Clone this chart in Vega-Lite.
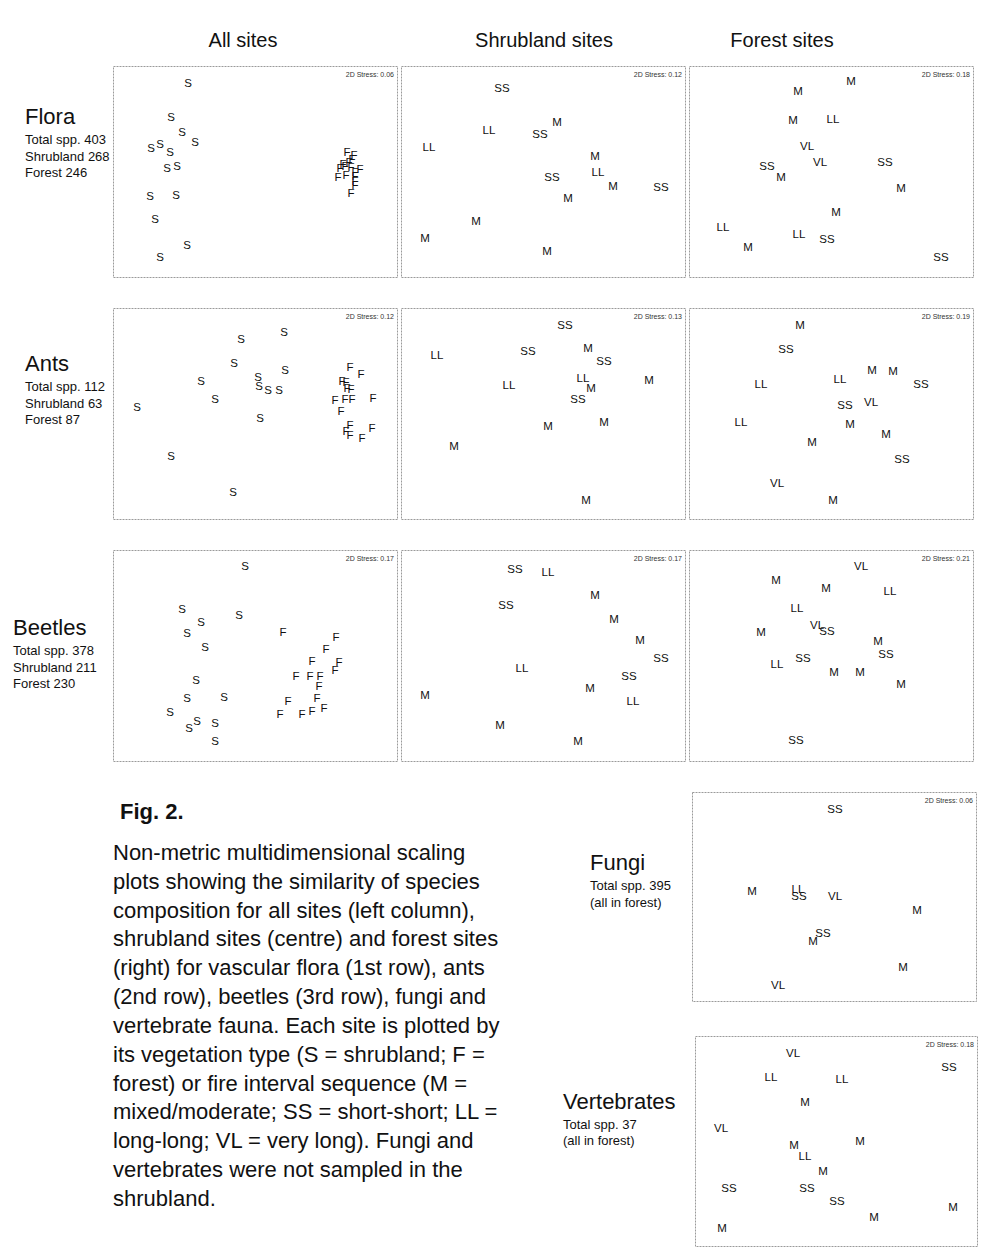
{
  "$schema": "https://vega.github.io/schema/vega-lite/v6.json",
  "background": "white",
  "padding": {"top": 30, "left": 0, "right": 0, "bottom": 0},
  "spacing": 29,
  "config": {
    "view": {"stroke": "#9a9a9a", "strokeDash": [2, 1], "strokeWidth": 1},
    "font": "Liberation Sans",
    "text": {"font": "Liberation Sans", "color": "#111"},
    "title": {"font": "Liberation Sans", "fontWeight": "normal", "color": "#111", "anchor": "middle"}
  },
  "datasets": {
    "stress": [
      {"panel": "fa", "label": "2D Stress: 0.06"}, {"panel": "fs", "label": "2D Stress: 0.12"}, {"panel": "ff", "label": "2D Stress: 0.18"},
      {"panel": "aa", "label": "2D Stress: 0.12"}, {"panel": "as", "label": "2D Stress: 0.13"}, {"panel": "af", "label": "2D Stress: 0.19"},
      {"panel": "ba", "label": "2D Stress: 0.17"}, {"panel": "bs", "label": "2D Stress: 0.17"}, {"panel": "bf", "label": "2D Stress: 0.21"},
      {"panel": "fu", "label": "2D Stress: 0.06"}, {"panel": "ve", "label": "2D Stress: 0.18"}
    ],
    "sites": [
      {"panel":"fa","code":"S","x":75,"y":18},{"panel":"fa","code":"S","x":58,"y":52},{"panel":"fa","code":"S","x":69,"y":67},{"panel":"fa","code":"S","x":82,"y":77},{"panel":"fa","code":"S","x":38,"y":83},{"panel":"fa","code":"S","x":47,"y":79},{"panel":"fa","code":"S","x":57,"y":87},{"panel":"fa","code":"S","x":54,"y":103},{"panel":"fa","code":"S","x":64,"y":101},{"panel":"fa","code":"S","x":37,"y":131},{"panel":"fa","code":"S","x":63,"y":130},{"panel":"fa","code":"S","x":42,"y":154},{"panel":"fa","code":"S","x":74,"y":180},{"panel":"fa","code":"S","x":47,"y":192},
      {"panel":"fa","code":"F","x":234,"y":87},{"panel":"fa","code":"F","x":241,"y":90},{"panel":"fa","code":"F","x":239,"y":94},{"panel":"fa","code":"F","x":236,"y":97},{"panel":"fa","code":"F","x":230,"y":99},{"panel":"fa","code":"F","x":227,"y":103},{"panel":"fa","code":"F","x":232,"y":101},{"panel":"fa","code":"F","x":238,"y":102},{"panel":"fa","code":"F","x":247,"y":104},{"panel":"fa","code":"F","x":242,"y":107},{"panel":"fa","code":"F","x":225,"y":112},{"panel":"fa","code":"F","x":233,"y":110},{"panel":"fa","code":"F","x":242,"y":111},{"panel":"fa","code":"F","x":242,"y":116},{"panel":"fa","code":"F","x":242,"y":120},{"panel":"fa","code":"F","x":238,"y":128},
      {"panel":"fs","code":"SS","x":101,"y":23},{"panel":"fs","code":"LL","x":88,"y":65},{"panel":"fs","code":"M","x":156,"y":57},{"panel":"fs","code":"SS","x":139,"y":69},{"panel":"fs","code":"LL","x":28,"y":82},{"panel":"fs","code":"M","x":194,"y":91},{"panel":"fs","code":"LL","x":197,"y":107},{"panel":"fs","code":"SS","x":151,"y":112},{"panel":"fs","code":"M","x":212,"y":121},{"panel":"fs","code":"SS","x":260,"y":122},{"panel":"fs","code":"M","x":167,"y":133},{"panel":"fs","code":"M","x":75,"y":156},{"panel":"fs","code":"M","x":24,"y":173},{"panel":"fs","code":"M","x":146,"y":186},
      {"panel":"ff","code":"M","x":162,"y":16},{"panel":"ff","code":"M","x":109,"y":26},{"panel":"ff","code":"M","x":104,"y":55},{"panel":"ff","code":"LL","x":144,"y":54},{"panel":"ff","code":"VL","x":118,"y":81},{"panel":"ff","code":"VL","x":131,"y":97},{"panel":"ff","code":"SS","x":196,"y":97},{"panel":"ff","code":"SS","x":78,"y":101},{"panel":"ff","code":"M","x":92,"y":112},{"panel":"ff","code":"M","x":212,"y":123},{"panel":"ff","code":"M","x":147,"y":147},{"panel":"ff","code":"LL","x":34,"y":162},{"panel":"ff","code":"LL","x":110,"y":169},{"panel":"ff","code":"SS","x":138,"y":174},{"panel":"ff","code":"M","x":59,"y":182},{"panel":"ff","code":"SS","x":252,"y":192},
      {"panel":"aa","code":"S","x":171,"y":25},{"panel":"aa","code":"S","x":128,"y":32},{"panel":"aa","code":"S","x":121,"y":56},{"panel":"aa","code":"S","x":172,"y":63},{"panel":"aa","code":"S","x":88,"y":74},{"panel":"aa","code":"S","x":145,"y":70},{"panel":"aa","code":"S","x":146,"y":79},{"panel":"aa","code":"S","x":155,"y":83},{"panel":"aa","code":"S","x":166,"y":83},{"panel":"aa","code":"S","x":102,"y":92},{"panel":"aa","code":"S","x":24,"y":100},{"panel":"aa","code":"S","x":147,"y":111},{"panel":"aa","code":"S","x":58,"y":149},{"panel":"aa","code":"S","x":120,"y":185},
      {"panel":"aa","code":"F","x":237,"y":60},{"panel":"aa","code":"F","x":248,"y":67},{"panel":"aa","code":"F","x":229,"y":74},{"panel":"aa","code":"F","x":233,"y":75},{"panel":"aa","code":"F","x":234,"y":81},{"panel":"aa","code":"F","x":238,"y":82},{"panel":"aa","code":"F","x":222,"y":93},{"panel":"aa","code":"F","x":232,"y":92},{"panel":"aa","code":"F","x":239,"y":92},{"panel":"aa","code":"F","x":260,"y":91},{"panel":"aa","code":"F","x":228,"y":104},{"panel":"aa","code":"F","x":237,"y":118},{"panel":"aa","code":"F","x":233,"y":124},{"panel":"aa","code":"F","x":237,"y":128},{"panel":"aa","code":"F","x":249,"y":131},{"panel":"aa","code":"F","x":259,"y":121},
      {"panel":"as","code":"SS","x":164,"y":18},{"panel":"as","code":"LL","x":36,"y":48},{"panel":"as","code":"SS","x":127,"y":44},{"panel":"as","code":"M","x":187,"y":41},{"panel":"as","code":"SS","x":203,"y":54},{"panel":"as","code":"LL","x":182,"y":71},{"panel":"as","code":"M","x":190,"y":81},{"panel":"as","code":"M","x":248,"y":73},{"panel":"as","code":"LL","x":108,"y":78},{"panel":"as","code":"SS","x":177,"y":92},{"panel":"as","code":"M","x":147,"y":119},{"panel":"as","code":"M","x":203,"y":115},{"panel":"as","code":"M","x":53,"y":139},{"panel":"as","code":"M","x":185,"y":193},
      {"panel":"af","code":"M","x":111,"y":18},{"panel":"af","code":"SS","x":97,"y":42},{"panel":"af","code":"LL","x":72,"y":77},{"panel":"af","code":"LL","x":151,"y":72},{"panel":"af","code":"M","x":183,"y":63},{"panel":"af","code":"M","x":204,"y":64},{"panel":"af","code":"SS","x":232,"y":77},{"panel":"af","code":"SS","x":156,"y":98},{"panel":"af","code":"VL","x":182,"y":95},{"panel":"af","code":"LL","x":52,"y":115},{"panel":"af","code":"M","x":161,"y":117},{"panel":"af","code":"M","x":197,"y":127},{"panel":"af","code":"M","x":123,"y":135},{"panel":"af","code":"SS","x":213,"y":152},{"panel":"af","code":"VL","x":88,"y":176},{"panel":"af","code":"M","x":144,"y":193},
      {"panel":"ba","code":"S","x":132,"y":17},{"panel":"ba","code":"S","x":69,"y":60},{"panel":"ba","code":"S","x":126,"y":66},{"panel":"ba","code":"S","x":88,"y":73},{"panel":"ba","code":"S","x":74,"y":84},{"panel":"ba","code":"S","x":92,"y":98},{"panel":"ba","code":"S","x":83,"y":131},{"panel":"ba","code":"S","x":74,"y":149},{"panel":"ba","code":"S","x":111,"y":148},{"panel":"ba","code":"S","x":57,"y":163},{"panel":"ba","code":"S","x":84,"y":172},{"panel":"ba","code":"S","x":76,"y":179},{"panel":"ba","code":"S","x":102,"y":174},{"panel":"ba","code":"S","x":102,"y":192},
      {"panel":"ba","code":"F","x":170,"y":83},{"panel":"ba","code":"F","x":223,"y":88},{"panel":"ba","code":"F","x":213,"y":100},{"panel":"ba","code":"F","x":199,"y":112},{"panel":"ba","code":"F","x":226,"y":113},{"panel":"ba","code":"F","x":222,"y":121},{"panel":"ba","code":"F","x":183,"y":127},{"panel":"ba","code":"F","x":197,"y":127},{"panel":"ba","code":"F","x":207,"y":127},{"panel":"ba","code":"F","x":206,"y":137},{"panel":"ba","code":"F","x":204,"y":149},{"panel":"ba","code":"F","x":175,"y":152},{"panel":"ba","code":"F","x":167,"y":165},{"panel":"ba","code":"F","x":189,"y":165},{"panel":"ba","code":"F","x":199,"y":162},{"panel":"ba","code":"F","x":211,"y":159},
      {"panel":"bs","code":"SS","x":114,"y":20},{"panel":"bs","code":"LL","x":147,"y":23},{"panel":"bs","code":"M","x":194,"y":46},{"panel":"bs","code":"SS","x":105,"y":56},{"panel":"bs","code":"M","x":213,"y":70},{"panel":"bs","code":"M","x":239,"y":91},{"panel":"bs","code":"SS","x":260,"y":109},{"panel":"bs","code":"LL","x":121,"y":119},{"panel":"bs","code":"SS","x":228,"y":127},{"panel":"bs","code":"M","x":189,"y":139},{"panel":"bs","code":"M","x":24,"y":146},{"panel":"bs","code":"LL","x":232,"y":152},{"panel":"bs","code":"M","x":99,"y":176},{"panel":"bs","code":"M","x":177,"y":192},
      {"panel":"bf","code":"VL","x":172,"y":17},{"panel":"bf","code":"M","x":87,"y":31},{"panel":"bf","code":"M","x":137,"y":39},{"panel":"bf","code":"LL","x":201,"y":42},{"panel":"bf","code":"LL","x":108,"y":59},{"panel":"bf","code":"VL","x":128,"y":76},{"panel":"bf","code":"SS","x":138,"y":82},{"panel":"bf","code":"M","x":72,"y":83},{"panel":"bf","code":"M","x":189,"y":92},{"panel":"bf","code":"SS","x":197,"y":105},{"panel":"bf","code":"SS","x":114,"y":109},{"panel":"bf","code":"LL","x":88,"y":115},{"panel":"bf","code":"M","x":145,"y":123},{"panel":"bf","code":"M","x":171,"y":123},{"panel":"bf","code":"M","x":212,"y":135},{"panel":"bf","code":"SS","x":107,"y":191},
      {"panel":"fu","code":"SS","x":143,"y":18},{"panel":"fu","code":"M","x":60,"y":100},{"panel":"fu","code":"LL","x":106,"y":98},{"panel":"fu","code":"SS","x":107,"y":105},{"panel":"fu","code":"VL","x":143,"y":105},{"panel":"fu","code":"M","x":225,"y":119},{"panel":"fu","code":"SS","x":131,"y":142},{"panel":"fu","code":"M","x":121,"y":150},{"panel":"fu","code":"M","x":211,"y":176},{"panel":"fu","code":"VL","x":86,"y":194},
      {"panel":"ve","code":"VL","x":98,"y":18},{"panel":"ve","code":"SS","x":254,"y":32},{"panel":"ve","code":"LL","x":76,"y":42},{"panel":"ve","code":"LL","x":147,"y":44},{"panel":"ve","code":"M","x":110,"y":67},{"panel":"ve","code":"VL","x":26,"y":93},{"panel":"ve","code":"M","x":165,"y":106},{"panel":"ve","code":"M","x":99,"y":110},{"panel":"ve","code":"LL","x":110,"y":121},{"panel":"ve","code":"M","x":128,"y":136},{"panel":"ve","code":"SS","x":34,"y":153},{"panel":"ve","code":"SS","x":112,"y":153},{"panel":"ve","code":"SS","x":142,"y":166},{"panel":"ve","code":"M","x":258,"y":172},{"panel":"ve","code":"M","x":179,"y":182},{"panel":"ve","code":"M","x":27,"y":193}
    ]
  },
  "vconcat": [
    {
      "hconcat": [
        {
          "width": 110, "height": 211, "view": {"stroke": null},
          "data": {"values": [{"line": 0, "text": "Flora"}, {"line": 1, "text": "Total spp. 403"}, {"line": 2, "text": "Shrubland 268"}, {"line": 3, "text": "Forest 246"}]},
          "encoding": {"x": {"value": 25}, "y": {"field": "line", "type": "quantitative", "scale": {"domain": [0, 10], "range": [57.5, 222.5]}, "axis": null}, "text": {"field": "text"}},
          "layer": [
            {"transform": [{"filter": "datum.line == 0"}], "mark": {"type": "text", "fontSize": 22, "align": "left", "baseline": "middle", "dy": -6.5}},
            {"transform": [{"filter": "datum.line > 0"}], "mark": {"type": "text", "fontSize": 13, "align": "left", "baseline": "middle"}}
          ]
        },
        {
          "width": 284, "height": 211,
          "title": {"text": "All sites", "fontSize": 20, "offset": 15, "dx": -12},
          "layer": [
            {"data": {"name": "sites"}, "transform": [{"filter": "datum.panel == 'fa'"}], "mark": {"type": "text", "fontSize": 11.5, "baseline": "middle"},
             "encoding": {"x": {"field": "x", "type": "quantitative", "scale": {"domain": [0, 284], "nice": false, "zero": false}, "axis": null}, "y": {"field": "y", "type": "quantitative", "scale": {"domain": [0, 211], "nice": false, "zero": false, "reverse": true}, "axis": null}, "text": {"field": "code"}}},
            {"data": {"name": "stress"}, "transform": [{"filter": "datum.panel == 'fa'"}], "mark": {"type": "text", "fontSize": 7, "align": "right", "baseline": "middle", "dx": -3, "color": "#333"}, "encoding": {"x": {"value": "width"}, "y": {"value": 9}, "text": {"field": "label"}}}
          ]
        },
        {
          "width": 284, "height": 211,
          "title": {"text": "Shrubland sites", "fontSize": 20, "offset": 15, "dx": 1},
          "layer": [
            {"data": {"name": "sites"}, "transform": [{"filter": "datum.panel == 'fs'"}], "mark": {"type": "text", "fontSize": 11.5, "baseline": "middle"},
             "encoding": {"x": {"field": "x", "type": "quantitative", "scale": {"domain": [0, 284], "nice": false, "zero": false}, "axis": null}, "y": {"field": "y", "type": "quantitative", "scale": {"domain": [0, 211], "nice": false, "zero": false, "reverse": true}, "axis": null}, "text": {"field": "code"}}},
            {"data": {"name": "stress"}, "transform": [{"filter": "datum.panel == 'fs'"}], "mark": {"type": "text", "fontSize": 7, "align": "right", "baseline": "middle", "dx": -3, "color": "#333"}, "encoding": {"x": {"value": "width"}, "y": {"value": 9}, "text": {"field": "label"}}}
          ]
        },
        {
          "width": 284, "height": 211,
          "title": {"text": "Forest sites", "fontSize": 20, "offset": 15, "dx": -49},
          "layer": [
            {"data": {"name": "sites"}, "transform": [{"filter": "datum.panel == 'ff'"}], "mark": {"type": "text", "fontSize": 11.5, "baseline": "middle"},
             "encoding": {"x": {"field": "x", "type": "quantitative", "scale": {"domain": [0, 284], "nice": false, "zero": false}, "axis": null}, "y": {"field": "y", "type": "quantitative", "scale": {"domain": [0, 211], "nice": false, "zero": false, "reverse": true}, "axis": null}, "text": {"field": "code"}}},
            {"data": {"name": "stress"}, "transform": [{"filter": "datum.panel == 'ff'"}], "mark": {"type": "text", "fontSize": 7, "align": "right", "baseline": "middle", "dx": -3, "color": "#333"}, "encoding": {"x": {"value": "width"}, "y": {"value": 9}, "text": {"field": "label"}}}
          ]
        }
      ],
      "spacing": 2
    },
    {
      "hconcat": [
        {
          "width": 110, "height": 211, "view": {"stroke": null},
          "data": {"values": [{"line": 0, "text": "Ants"}, {"line": 1, "text": "Total spp. 112"}, {"line": 2, "text": "Shrubland 63"}, {"line": 3, "text": "Forest 87"}]},
          "encoding": {"x": {"value": 25}, "y": {"field": "line", "type": "quantitative", "scale": {"domain": [0, 10], "range": [62.5, 227.5]}, "axis": null}, "text": {"field": "text"}},
          "layer": [
            {"transform": [{"filter": "datum.line == 0"}], "mark": {"type": "text", "fontSize": 22, "align": "left", "baseline": "middle", "dy": -6.5}},
            {"transform": [{"filter": "datum.line > 0"}], "mark": {"type": "text", "fontSize": 13, "align": "left", "baseline": "middle"}}
          ]
        },
        {
          "width": 284, "height": 211,
          "layer": [
            {"data": {"name": "sites"}, "transform": [{"filter": "datum.panel == 'aa'"}], "mark": {"type": "text", "fontSize": 11.5, "baseline": "middle"},
             "encoding": {"x": {"field": "x", "type": "quantitative", "scale": {"domain": [0, 284], "nice": false, "zero": false}, "axis": null}, "y": {"field": "y", "type": "quantitative", "scale": {"domain": [0, 211], "nice": false, "zero": false, "reverse": true}, "axis": null}, "text": {"field": "code"}}},
            {"data": {"name": "stress"}, "transform": [{"filter": "datum.panel == 'aa'"}], "mark": {"type": "text", "fontSize": 7, "align": "right", "baseline": "middle", "dx": -3, "color": "#333"}, "encoding": {"x": {"value": "width"}, "y": {"value": 9}, "text": {"field": "label"}}}
          ]
        },
        {
          "width": 284, "height": 211,
          "layer": [
            {"data": {"name": "sites"}, "transform": [{"filter": "datum.panel == 'as'"}], "mark": {"type": "text", "fontSize": 11.5, "baseline": "middle"},
             "encoding": {"x": {"field": "x", "type": "quantitative", "scale": {"domain": [0, 284], "nice": false, "zero": false}, "axis": null}, "y": {"field": "y", "type": "quantitative", "scale": {"domain": [0, 211], "nice": false, "zero": false, "reverse": true}, "axis": null}, "text": {"field": "code"}}},
            {"data": {"name": "stress"}, "transform": [{"filter": "datum.panel == 'as'"}], "mark": {"type": "text", "fontSize": 7, "align": "right", "baseline": "middle", "dx": -3, "color": "#333"}, "encoding": {"x": {"value": "width"}, "y": {"value": 9}, "text": {"field": "label"}}}
          ]
        },
        {
          "width": 284, "height": 211,
          "layer": [
            {"data": {"name": "sites"}, "transform": [{"filter": "datum.panel == 'af'"}], "mark": {"type": "text", "fontSize": 11.5, "baseline": "middle"},
             "encoding": {"x": {"field": "x", "type": "quantitative", "scale": {"domain": [0, 284], "nice": false, "zero": false}, "axis": null}, "y": {"field": "y", "type": "quantitative", "scale": {"domain": [0, 211], "nice": false, "zero": false, "reverse": true}, "axis": null}, "text": {"field": "code"}}},
            {"data": {"name": "stress"}, "transform": [{"filter": "datum.panel == 'af'"}], "mark": {"type": "text", "fontSize": 7, "align": "right", "baseline": "middle", "dx": -3, "color": "#333"}, "encoding": {"x": {"value": "width"}, "y": {"value": 9}, "text": {"field": "label"}}}
          ]
        }
      ],
      "spacing": 2
    },
    {
      "hconcat": [
        {
          "width": 110, "height": 211, "view": {"stroke": null},
          "data": {"values": [{"line": 0, "text": "Beetles"}, {"line": 1, "text": "Total spp. 378"}, {"line": 2, "text": "Shrubland 211"}, {"line": 3, "text": "Forest 230"}]},
          "encoding": {"x": {"value": 13}, "y": {"field": "line", "type": "quantitative", "scale": {"domain": [0, 10], "range": [84.5, 249.5]}, "axis": null}, "text": {"field": "text"}},
          "layer": [
            {"transform": [{"filter": "datum.line == 0"}], "mark": {"type": "text", "fontSize": 22, "align": "left", "baseline": "middle", "dy": -6.5}},
            {"transform": [{"filter": "datum.line > 0"}], "mark": {"type": "text", "fontSize": 13, "align": "left", "baseline": "middle"}}
          ]
        },
        {
          "width": 284, "height": 211,
          "layer": [
            {"data": {"name": "sites"}, "transform": [{"filter": "datum.panel == 'ba'"}], "mark": {"type": "text", "fontSize": 11.5, "baseline": "middle"},
             "encoding": {"x": {"field": "x", "type": "quantitative", "scale": {"domain": [0, 284], "nice": false, "zero": false}, "axis": null}, "y": {"field": "y", "type": "quantitative", "scale": {"domain": [0, 211], "nice": false, "zero": false, "reverse": true}, "axis": null}, "text": {"field": "code"}}},
            {"data": {"name": "stress"}, "transform": [{"filter": "datum.panel == 'ba'"}], "mark": {"type": "text", "fontSize": 7, "align": "right", "baseline": "middle", "dx": -3, "color": "#333"}, "encoding": {"x": {"value": "width"}, "y": {"value": 9}, "text": {"field": "label"}}}
          ]
        },
        {
          "width": 284, "height": 211,
          "layer": [
            {"data": {"name": "sites"}, "transform": [{"filter": "datum.panel == 'bs'"}], "mark": {"type": "text", "fontSize": 11.5, "baseline": "middle"},
             "encoding": {"x": {"field": "x", "type": "quantitative", "scale": {"domain": [0, 284], "nice": false, "zero": false}, "axis": null}, "y": {"field": "y", "type": "quantitative", "scale": {"domain": [0, 211], "nice": false, "zero": false, "reverse": true}, "axis": null}, "text": {"field": "code"}}},
            {"data": {"name": "stress"}, "transform": [{"filter": "datum.panel == 'bs'"}], "mark": {"type": "text", "fontSize": 7, "align": "right", "baseline": "middle", "dx": -3, "color": "#333"}, "encoding": {"x": {"value": "width"}, "y": {"value": 9}, "text": {"field": "label"}}}
          ]
        },
        {
          "width": 284, "height": 211,
          "layer": [
            {"data": {"name": "sites"}, "transform": [{"filter": "datum.panel == 'bf'"}], "mark": {"type": "text", "fontSize": 11.5, "baseline": "middle"},
             "encoding": {"x": {"field": "x", "type": "quantitative", "scale": {"domain": [0, 284], "nice": false, "zero": false}, "axis": null}, "y": {"field": "y", "type": "quantitative", "scale": {"domain": [0, 211], "nice": false, "zero": false, "reverse": true}, "axis": null}, "text": {"field": "code"}}},
            {"data": {"name": "stress"}, "transform": [{"filter": "datum.panel == 'bf'"}], "mark": {"type": "text", "fontSize": 7, "align": "right", "baseline": "middle", "dx": -3, "color": "#333"}, "encoding": {"x": {"value": "width"}, "y": {"value": 9}, "text": {"field": "label"}}}
          ]
        }
      ],
      "spacing": 2
    },
    {
      "hconcat": [
        {
          "width": 545, "height": 454, "view": {"stroke": null},
          "data": {"values": [
            {"line": 0, "text": "Fig. 2."},
            {"line": 1, "text": "Non-metric multidimensional scaling"},
            {"line": 2, "text": "plots showing the similarity of species"},
            {"line": 3, "text": "composition for all sites (left column),"},
            {"line": 4, "text": "shrubland sites (centre) and forest sites"},
            {"line": 5, "text": "(right) for vascular flora (1st row), ants"},
            {"line": 6, "text": "(2nd row), beetles (3rd row), fungi and"},
            {"line": 7, "text": "vertebrate fauna. Each site is plotted by"},
            {"line": 8, "text": "its vegetation type (S = shrubland; F ="},
            {"line": 9, "text": "forest) or fire interval sequence (M ="},
            {"line": 10, "text": "mixed/moderate; SS = short-short; LL ="},
            {"line": 11, "text": "long-long; VL = very long). Fungi and"},
            {"line": 12, "text": "vertebrates were not sampled in the"},
            {"line": 13, "text": "shrubland."}
          ]},
          "encoding": {"y": {"field": "line", "type": "quantitative", "scale": {"domain": [0, 13], "range": [32.17, 406.96]}, "axis": null}, "text": {"field": "text"}},
          "layer": [
            {"transform": [{"filter": "datum.line == 0"}], "mark": {"type": "text", "fontSize": 22, "fontWeight": "bold", "align": "left", "baseline": "middle", "dy": -12}, "encoding": {"x": {"value": 120}}},
            {"transform": [{"filter": "datum.line > 0"}], "mark": {"type": "text", "fontSize": 22, "align": "left", "baseline": "middle"}, "encoding": {"x": {"value": 113}}}
          ]
        },
        {
          "vconcat": [
            {
              "hconcat": [
                {
                  "width": 140, "height": 209, "view": {"stroke": null},
                  "data": {"values": [{"line": 0, "text": "Fungi"}, {"line": 1, "text": "Total spp. 395"}, {"line": 2, "text": "(all in forest)"}]},
                  "encoding": {"x": {"value": 41}, "y": {"field": "line", "type": "quantitative", "scale": {"domain": [0, 10], "range": [77, 247]}, "axis": null}, "text": {"field": "text"}},
                  "layer": [
                    {"transform": [{"filter": "datum.line == 0"}], "mark": {"type": "text", "fontSize": 22, "align": "left", "baseline": "middle", "dy": -6}},
                    {"transform": [{"filter": "datum.line > 0"}], "mark": {"type": "text", "fontSize": 13, "align": "left", "baseline": "middle"}}
                  ]
                },
                {
                  "width": 284, "height": 209,
                  "layer": [
                    {"data": {"name": "sites"}, "transform": [{"filter": "datum.panel == 'fu'"}], "mark": {"type": "text", "fontSize": 11.5, "baseline": "middle"},
                     "encoding": {"x": {"field": "x", "type": "quantitative", "scale": {"domain": [0, 284], "nice": false, "zero": false}, "axis": null}, "y": {"field": "y", "type": "quantitative", "scale": {"domain": [0, 209], "nice": false, "zero": false, "reverse": true}, "axis": null}, "text": {"field": "code"}}},
                    {"data": {"name": "stress"}, "transform": [{"filter": "datum.panel == 'fu'"}], "mark": {"type": "text", "fontSize": 7, "align": "right", "baseline": "middle", "dx": -3, "color": "#333"}, "encoding": {"x": {"value": "width"}, "y": {"value": 9}, "text": {"field": "label"}}}
                  ]
                }
              ],
              "spacing": 2
            },
            {
              "hconcat": [
                {
                  "width": 143, "height": 210, "view": {"stroke": null},
                  "data": {"values": [{"line": 0, "text": "Vertebrates"}, {"line": 1, "text": "Total spp. 37"}, {"line": 2, "text": "(all in forest)"}]},
                  "encoding": {"x": {"value": 14}, "y": {"field": "line", "type": "quantitative", "scale": {"domain": [0, 10], "range": [73, 233]}, "axis": null}, "text": {"field": "text"}},
                  "layer": [
                    {"transform": [{"filter": "datum.line == 0"}], "mark": {"type": "text", "fontSize": 22, "align": "left", "baseline": "middle", "dy": -7}},
                    {"transform": [{"filter": "datum.line > 0"}], "mark": {"type": "text", "fontSize": 13, "align": "left", "baseline": "middle"}}
                  ]
                },
                {
                  "width": 282, "height": 210,
                  "layer": [
                    {"data": {"name": "sites"}, "transform": [{"filter": "datum.panel == 've'"}], "mark": {"type": "text", "fontSize": 11.5, "baseline": "middle"},
                     "encoding": {"x": {"field": "x", "type": "quantitative", "scale": {"domain": [0, 282], "nice": false, "zero": false}, "axis": null}, "y": {"field": "y", "type": "quantitative", "scale": {"domain": [0, 210], "nice": false, "zero": false, "reverse": true}, "axis": null}, "text": {"field": "code"}}},
                    {"data": {"name": "stress"}, "transform": [{"filter": "datum.panel == 've'"}], "mark": {"type": "text", "fontSize": 7, "align": "right", "baseline": "middle", "dx": -3, "color": "#333"}, "encoding": {"x": {"value": "width"}, "y": {"value": 9}, "text": {"field": "label"}}}
                  ]
                }
              ],
              "spacing": 2
            }
          ],
          "spacing": 33
        }
      ],
      "spacing": 4
    }
  ]
}
